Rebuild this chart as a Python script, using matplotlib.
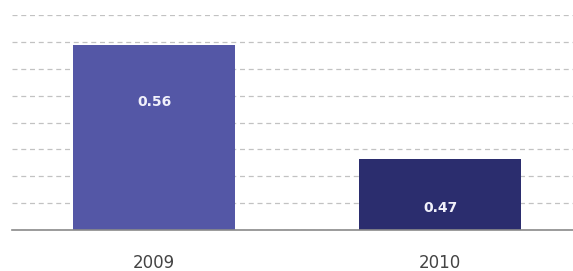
import numpy as np
import matplotlib.pyplot as plt

years = ['2009', '2010']
values = [0.56, 0.47]
colors = ['#5457a6', '#2b2d6e']

fig = plt.figure(figsize=(5.73, 2.71), dpi=100)
ax = fig.add_axes([12 / 573, 41 / 271, 1 - 12 / 573, 215 / 271])

x = np.arange(len(years))
bars = ax.bar(x, values, width=0.566, color=colors, zorder=3)

ymin, ymax = 0.414, 0.5837
ax.set_xlim(-0.497, 1.465)
ax.set_ylim(ymin, ymax)
ax.set_yticks(np.linspace(ymin, ymax, 9))
ax.yaxis.grid(True, linestyle=(0, (4, 3)), color='#c2c2c2', linewidth=0.9)
ax.tick_params(axis='y', left=False, labelleft=False)

ax.set_xticks(x)
ax.set_xticklabels(years, fontsize=12, color='#444444')
ax.tick_params(axis='x', length=0, pad=17)

for s in ['top', 'right', 'left']:
    ax.spines[s].set_visible(False)
ax.spines['bottom'].set_color('#8a8a8a')
ax.spines['bottom'].set_linewidth(1.2)
ax.spines['bottom'].set_zorder(4)

# label offsets below bar top, in points
offsets = [-41, -35]
for xi, v, off in zip(x, values, offsets):
    ax.annotate('%.2f' % v, (xi, v), xytext=(0, off), textcoords='offset points',
                ha='center', va='center', color='#f0f0fa', fontsize=10,
                fontweight='bold', zorder=5)

fig.savefig('out.png', dpi=100, facecolor='white')
